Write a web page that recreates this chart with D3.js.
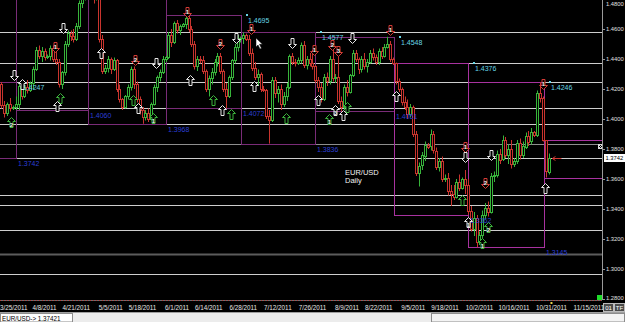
<!DOCTYPE html>
<html lang="en">
<head>
<meta charset="utf-8">
<title>EUR/USD Daily</title>
<script src="https://d3js.org/d3.v7.min.js"></script>
<style>
  body { margin: 0; background: #000; overflow: hidden; }
  svg text { font-family: "Liberation Sans", Arial, sans-serif; }
</style>
</head>
<body>
<script>
// daily bars (Sun..Fri), bar 0 = 3/22/2011 : [open, high, low, close]
var candles = [
  [1.4230,1.4247,1.4070,1.4090],[1.4090,1.4120,1.4010,1.4040],[1.4040,1.4110,1.4020,1.4100],[1.4100,1.4140,1.4050,1.4070],
  [1.4070,1.4090,1.4060,1.4080],[1.4080,1.4150,1.4060,1.4100],[1.4100,1.4240,1.4060,1.4220],[1.4220,1.4250,1.4130,1.4150],
  [1.4150,1.4230,1.4140,1.4210],[1.4210,1.4260,1.4170,1.4190],[1.4190,1.4250,1.4180,1.4240],[1.4240,1.4350,1.4200,1.4330],
  [1.4330,1.4480,1.4320,1.4460],[1.4460,1.4490,1.4400,1.4420],[1.4420,1.4480,1.4380,1.4450],[1.4450,1.4470,1.4390,1.4410],
  [1.4410,1.4430,1.4400,1.4420],[1.4420,1.4490,1.4390,1.4470],[1.4470,1.4490,1.4380,1.4400],[1.4400,1.4450,1.4360,1.4380],
  [1.4380,1.4400,1.4210,1.4230],[1.4230,1.4320,1.4200,1.4310],[1.4310,1.4520,1.4290,1.4500],[1.4500,1.4590,1.4480,1.4570],
  [1.4570,1.4590,1.4520,1.4550],[1.4550,1.4600,1.4510,1.4530],[1.4530,1.4640,1.4520,1.4620],[1.4620,1.4790,1.4600,1.4770],
  [1.4770,1.4850,1.4740,1.4820],[1.4820,1.4880,1.4790,1.4850],[1.4850,1.4870,1.4830,1.4840],[1.4840,1.4900,1.4800,1.4830],
  [1.4830,1.4870,1.4770,1.4800],[1.4800,1.4940,1.4790,1.4830],[1.4830,1.4850,1.4510,1.4530],[1.4530,1.4560,1.4300,1.4320],
  [1.4320,1.4360,1.4300,1.4340],[1.4340,1.4420,1.4310,1.4400],[1.4400,1.4410,1.4300,1.4330],[1.4330,1.4410,1.4320,1.4390],
  [1.4390,1.4400,1.4180,1.4200],[1.4200,1.4230,1.4110,1.4130],[1.4130,1.4140,1.4060,1.4080],[1.4080,1.4160,1.4070,1.4150],
  [1.4150,1.4230,1.4130,1.4210],[1.4210,1.4350,1.4190,1.4330],[1.4330,1.4350,1.4200,1.4230],[1.4230,1.4250,1.4110,1.4130],
  [1.4130,1.4150,1.4030,1.4060],[1.4060,1.4080,1.3968,1.4010],[1.4010,1.4060,1.3990,1.4040],[1.4040,1.4070,1.3980,1.4000],
  [1.4000,1.4110,1.3990,1.4100],[1.4100,1.4230,1.4090,1.4210],[1.4210,1.4290,1.4180,1.4280],[1.4280,1.4330,1.4250,1.4310],
  [1.4310,1.4420,1.4300,1.4400],[1.4400,1.4420,1.4380,1.4410],[1.4410,1.4580,1.4400,1.4560],[1.4560,1.4600,1.4480,1.4510],
  [1.4510,1.4650,1.4500,1.4640],[1.4640,1.4660,1.4570,1.4590],[1.4590,1.4630,1.4560,1.4620],[1.4620,1.4640,1.4610,1.4630],
  [1.4630,1.4695,1.4600,1.4670],[1.4670,1.4690,1.4580,1.4600],[1.4600,1.4620,1.4480,1.4500],[1.4500,1.4520,1.4330,1.4350],
  [1.4350,1.4420,1.4320,1.4400],[1.4400,1.4420,1.4370,1.4390],[1.4390,1.4420,1.4300,1.4320],[1.4320,1.4330,1.4180,1.4200],
  [1.4200,1.4290,1.4150,1.4270],[1.4270,1.4340,1.4230,1.4310],[1.4310,1.4400,1.4290,1.4380],[1.4380,1.4440,1.4350,1.4420],
  [1.4420,1.4440,1.4300,1.4320],[1.4320,1.4330,1.4180,1.4200],[1.4200,1.4240,1.4072,1.4150],[1.4150,1.4290,1.4140,1.4280],
  [1.4280,1.4400,1.4260,1.4390],[1.4390,1.4500,1.4370,1.4480],[1.4480,1.4560,1.4450,1.4530],[1.4530,1.4550,1.4510,1.4540],
  [1.4540,1.4577,1.4500,1.4560],[1.4560,1.4570,1.4520,1.4530],[1.4530,1.4560,1.4420,1.4440],[1.4440,1.4470,1.4320,1.4340],
  [1.4340,1.4380,1.4260,1.4280],[1.4280,1.4330,1.4220,1.4300],[1.4300,1.4310,1.4180,1.4200],[1.4200,1.4220,1.4180,1.4190],
  [1.4190,1.4200,1.4000,1.4020],[1.4020,1.4060,1.3836,1.3990],[1.3990,1.4280,1.3980,1.4260],[1.4260,1.4280,1.4140,1.4170],
  [1.4170,1.4220,1.4110,1.4200],[1.4200,1.4230,1.4060,1.4100],[1.4100,1.4180,1.4080,1.4150],[1.4150,1.4240,1.4120,1.4210],
  [1.4210,1.4430,1.4200,1.4420],[1.4420,1.4440,1.4360,1.4380],[1.4380,1.4400,1.4350,1.4370],[1.4370,1.4410,1.4360,1.4390],
  [1.4390,1.4510,1.4370,1.4490],[1.4490,1.4520,1.4340,1.4360],[1.4360,1.4420,1.4330,1.4400],[1.4400,1.4440,1.4350,1.4370],
  [1.4370,1.4460,1.4330,1.4350],[1.4350,1.4360,1.4240,1.4260],[1.4260,1.4280,1.4180,1.4210],[1.4210,1.4240,1.4110,1.4130],
  [1.4130,1.4300,1.4120,1.4280],[1.4280,1.4310,1.4220,1.4250],[1.4250,1.4420,1.4230,1.4400],[1.4400,1.4460,1.4250,1.4270],
  [1.4270,1.4300,1.4240,1.4280],[1.4280,1.4430,1.4100,1.4120],[1.4120,1.4150,1.4051,1.4080],[1.4080,1.4230,1.4060,1.4210],
  [1.4210,1.4260,1.4150,1.4180],[1.4180,1.4300,1.4170,1.4290],[1.4290,1.4460,1.4280,1.4440],[1.4440,1.4460,1.4380,1.4400],
  [1.4400,1.4410,1.4300,1.4330],[1.4330,1.4420,1.4310,1.4400],[1.4400,1.4440,1.4330,1.4350],[1.4350,1.4400,1.4310,1.4380],
  [1.4380,1.4460,1.4370,1.4440],[1.4440,1.4470,1.4390,1.4410],[1.4410,1.4430,1.4360,1.4380],[1.4380,1.4470,1.4360,1.4450],
  [1.4450,1.4480,1.4400,1.4420],[1.4420,1.4500,1.4410,1.4480],[1.4480,1.4548,1.4470,1.4500],[1.4500,1.4520,1.4380,1.4400],
  [1.4400,1.4410,1.4360,1.4370],[1.4370,1.4376,1.4230,1.4250],[1.4250,1.4270,1.4180,1.4200],[1.4200,1.4210,1.4090,1.4110],
  [1.4110,1.4150,1.4060,1.4080],[1.4080,1.4130,1.4000,1.4030],[1.4030,1.4100,1.4010,1.4080],[1.4080,1.4090,1.3880,1.3900],
  [1.3900,1.3920,1.3620,1.3640],[1.3640,1.3710,1.3550,1.3690],[1.3690,1.3780,1.3660,1.3760],[1.3760,1.3850,1.3720,1.3830],
  [1.3830,1.3840,1.3800,1.3820],[1.3820,1.3930,1.3790,1.3900],[1.3900,1.3920,1.3770,1.3790],[1.3790,1.3810,1.3660,1.3680],
  [1.3680,1.3740,1.3650,1.3720],[1.3720,1.3750,1.3580,1.3600],[1.3600,1.3630,1.3580,1.3610],[1.3610,1.3640,1.3490,1.3520],
  [1.3520,1.3560,1.3420,1.3500],[1.3500,1.3560,1.3460,1.3480],[1.3480,1.3600,1.3470,1.3580],[1.3580,1.3630,1.3520,1.3540],
  [1.3540,1.3610,1.3530,1.3600],[1.3600,1.3660,1.3500,1.3560],[1.3560,1.3600,1.3362,1.3390],[1.3390,1.3420,1.3250,1.3270],
  [1.3270,1.3380,1.3220,1.3340],[1.3340,1.3360,1.3145,1.3180],[1.3180,1.3250,1.3160,1.3230],[1.3230,1.3390,1.3170,1.3360],
  [1.3360,1.3440,1.3330,1.3410],[1.3410,1.3450,1.3350,1.3380],[1.3380,1.3640,1.3370,1.3620],[1.3620,1.3650,1.3580,1.3630],
  [1.3630,1.3790,1.3610,1.3770],[1.3770,1.3800,1.3700,1.3730],[1.3730,1.3890,1.3720,1.3860],[1.3860,1.3880,1.3740,1.3760],
  [1.3760,1.3830,1.3700,1.3800],[1.3800,1.3860,1.3670,1.3700],[1.3700,1.3740,1.3680,1.3720],[1.3720,1.3860,1.3700,1.3840],
  [1.3840,1.3870,1.3730,1.3760],[1.3760,1.3850,1.3740,1.3820],[1.3820,1.3910,1.3800,1.3890],[1.3890,1.3920,1.3820,1.3850],
  [1.3850,1.3940,1.3830,1.3910],[1.3910,1.3920,1.3880,1.3890],[1.3890,1.4190,1.3880,1.4170],[1.4170,1.4246,1.4110,1.4140],
  [1.4140,1.4150,1.3850,1.3860],[1.3860,1.3860,1.3610,1.3650],[1.3650,1.3770,1.3630,1.3742]
];

// time axis labels and the bar they sit on
var tickLabels = ["3/25/2011","4/8/2011","4/21/2011","5/5/2011","5/18/2011","6/1/2011","6/14/2011","6/28/2011","7/12/2011",
                  "7/26/2011","8/9/2011","8/22/2011","9/5/2011","9/18/2011","10/2/2011","10/16/2011","10/31/2011","11/15/2011"];
var tickBars = [3,15,26,38,49,61,72,84,96,108,120,131,143,154,166,178,191,204];

var priceTicks = [1.28,1.30,1.32,1.34,1.36,1.38,1.40,1.42,1.44,1.46,1.48];

// support / resistance lines
var levels = [1.4577,1.4376,1.4247,1.4072,1.3968,1.3836,1.3742,1.3495,1.3428,1.3262,1.3100,1.2967];

// monthly range boxes (bar index edges, high, low)
var boxStart = [-6, 5.1, 30.1, 57.2, 83.2, 108.9, 136.3, 162.0, 188.4];
var boxEnd   = [5.1, 30.1, 57.2, 83.2, 108.9, 136.3, 162.0, 188.4, 215];
var boxHigh  = [1.4247,1.4880,1.4940,1.4695,1.4577,1.4548,1.4376,1.4246,1.3860];
var boxLow   = [1.3742,1.4060,1.3968,1.4072,1.3836,1.4051,1.3362,1.3145,1.3610];

// signal arrows: w = white, g = green, r = red; up / down
var markerBars   = [4.4,7.2,3.3,21.4,18.6,20.4,19.3,34.6,46.4,53.7,45.7,47.4,52.7,64.5,65.5,75.9,73.5,76.6,79.7,81.5,
                    86.7,87.7,100.9,98.8,108.6,110,114.8,116.9,121.8,113.8,115.9,118.6,120,134.9,137,161,161,170,168,160,
                    162,169,167,188.1,188.8];
var markerPrices = [1.4293,1.4233,1.3980,1.4607,1.4480,1.4140,1.4087,1.4440,1.4393,1.4373,1.4127,1.4073,1.4007,1.4713,1.4260,1.4500,1.4127,1.4060,1.4033,1.4540,
                    1.4600,1.4220,1.4507,1.4007,1.4460,1.4127,1.4493,1.4453,1.4540,1.4000,1.4060,1.4027,1.4080,1.4593,1.4153,1.3813,1.3747,1.3760,1.3573,1.3460,
                    1.3313,1.3280,1.3173,1.4233,1.3540];
var markerKinds  = ["wd","wu","gu","wd","rd","gu","wu","wu","rd","wd","gu","wu","gu","rd","wu","rd","gu","wu","gu","wd",
                    "rd","wu","wd","gu","rd","wu","rd","rd","wd","gu","wu","wu","gu","rd","wu","rd","wd","wd","rd","gu",
                    "wu","gu","gu","rd","wu"];
var markerNums   = ["","","2","","1","","","","2","","","","1","1","","2","","","","",
                    "1","","","","1","","2","3","","1","3","","","1","","1","","","2","",
                    "1","2","1","1",""];

var boxLabelsShown = 8;   // last box is still open, no labels
var lastPrice = 1.3742;

var width = 625, height = 322;
var plotW = 602, plotH = 300;

var svg = d3.select("body").append("svg")
            .attr("width", width)
            .attr("height", height);

svg.append("rect").attr("width", width).attr("height", height).attr("fill", "#000");

var x = d3.scaleLinear().domain([0, 209]).range([1.4, 603.3]);
var y = d3.scaleLinear().domain([1.28, 1.48]).range([299, -1]);

function px(v) { return Math.round(v) + 0.5; }

svg.append("clipPath").attr("id", "plotclip")
   .append("rect").attr("width", plotW).attr("height", plotH);

var plot = svg.append("g").attr("clip-path", "url(#plotclip)");

// horizontal levels
plot.append("g").selectAll("line")
    .data(levels)
    .join("line")
    .attr("x1", 0).attr("x2", plotW)
    .attr("y1", d => px(y(d))).attr("y2", d => px(y(d)))
    .attr("stroke", d => d == 1.3100 ? "#5c5c5c" : (d == 1.3836 ? "#8e8e8e" : "#cdcdcd"))
    .attr("stroke-width", d => d == 1.3100 ? 2 : 1);

// range boxes
var boxes = d3.range(boxStart.length);
plot.append("g").selectAll("rect")
    .data(boxes)
    .join("rect")
    .attr("x", i => px(x(boxStart[i])))
    .attr("y", i => px(y(boxHigh[i])))
    .attr("width", i => Math.round(x(boxEnd[i])) - Math.round(x(boxStart[i])))
    .attr("height", i => Math.round(y(boxLow[i])) - Math.round(y(boxHigh[i])))
    .attr("fill", "none")
    .attr("stroke", i => i >= 6 ? "#a8329f" : "#7a2c78");

// candles
var cg = plot.append("g").selectAll("g")
    .data(candles)
    .join("g");

cg.append("line")
  .attr("x1", (d, i) => px(x(i))).attr("x2", (d, i) => px(x(i)))
  .attr("y1", d => y(d[1])).attr("y2", d => y(d[2]))
  .attr("stroke", d => d[3] >= d[0] ? "#37b43a" : "#c9342e");

cg.append("rect")
  .attr("x", (d, i) => Math.round(x(i)) - 0.5)
  .attr("y", d => Math.round(y(Math.max(d[0], d[3]))) + 0.5)
  .attr("width", 2)
  .attr("height", d => Math.max(1, Math.round(Math.abs(y(d[0]) - y(d[3])))))
  .attr("fill", "#000")
  .attr("stroke", d => d[3] >= d[0] ? "#37b43a" : "#c9342e");

// box labels: highs in cyan, lows in blue (only those inside the price range)
var labelled = boxes.slice(0, boxLabelsShown);
var highLabelled = labelled.filter(i => boxHigh[i] <= y.domain()[1]);

plot.append("g").selectAll("rect")
    .data(highLabelled)
    .join("rect")
    .attr("x", i => Math.round(x(boxEnd[i])) + 5)
    .attr("y", i => Math.round(y(boxHigh[i])) - 1)
    .attr("width", 2).attr("height", 2)
    .attr("fill", "#67d6e6");

plot.append("g").selectAll("text")
    .data(highLabelled)
    .join("text")
    .attr("x", i => Math.round(x(boxEnd[i])) + 7)
    .attr("y", i => y(boxHigh[i]) + 8)
    .attr("font-size", "7px")
    .attr("fill", "#67d6e6")
    .text(i => boxHigh[i].toFixed(4));

plot.append("g").selectAll("text")
    .data(labelled)
    .join("text")
    .attr("x", i => Math.round(x(boxEnd[i])) + 2)
    .attr("y", i => y(boxLow[i]) + 8)
    .attr("font-size", "7px")
    .attr("fill", "#2b3fd6")
    .text(i => boxLow[i].toFixed(4));

// signal arrows
var upPath = "M0,-5L4,-1L1.5,-1L1.5,5L-1.5,5L-1.5,-1L-4,-1Z";
var markerColor = { w: "#e6e6e6", g: "#3cb23c", r: "#d23a34" };
var mk = plot.append("g").selectAll("g")
    .data(d3.range(markerBars.length))
    .join("g")
    .attr("transform", i => "translate(" + px(x(markerBars[i])) + "," + px(y(markerPrices[i])) + ")");

mk.append("path")
  .attr("d", upPath)
  .attr("transform", i => markerKinds[i][1] == "d" ? "rotate(180)" : null)
  .attr("fill", "#000")
  .attr("stroke", i => markerColor[markerKinds[i][0]])
  .attr("stroke-width", 1);

mk.append("text")
  .attr("text-anchor", "middle")
  .attr("y", i => markerKinds[i][1] == "d" ? 1 : 4)
  .attr("font-size", "6px")
  .attr("font-weight", "bold")
  .attr("fill", "#f0f0f0")
  .text(i => markerNums[i]);

// current price marker on the last bar
var lp = px(y(lastPrice));
plot.append("path")
    .attr("d", "M" + (x(191) + 1) + "," + lp + "h9M" + (x(191) + 1) + "," + lp + "l3,-2M" + (x(191) + 1) + "," + lp + "l3,2")
    .attr("stroke", "#d23a34").attr("fill", "none");

// symbol caption
svg.append("text").attr("x", 345).attr("y", 175).attr("font-size", "7.5px").attr("fill", "#f2f2f2").text("EUR/USD");
svg.append("text").attr("x", 345).attr("y", 183).attr("font-size", "7.5px").attr("fill", "#f2f2f2").text("Daily");

// mouse pointer
svg.append("path")
   .attr("d", "M256,38v9l2,-2l2,4l1.5,-0.7l-2,-4h3z")
   .attr("fill", "#fff").attr("stroke", "#000").attr("stroke-width", 0.5);

// small chart widgets
svg.append("rect").attr("x", 598.5).attr("y", 144.5).attr("width", 4).attr("height", 4)
   .attr("fill", "none").attr("stroke", "#ddd");
svg.append("path").attr("d", "M599,145l3,3M602,145l-3,3").attr("stroke", "#ddd");
svg.append("rect").attr("x", 597).attr("y", 295).attr("width", 5).attr("height", 5).attr("fill", "#1fdc2a");

// right price axis
svg.append("line").attr("x1", 602.5).attr("x2", 602.5).attr("y1", 0).attr("y2", 300).attr("stroke", "#9a9a9a");
var yAxis = svg.append("g").selectAll("g")
    .data(priceTicks)
    .join("g");
yAxis.append("line")
     .attr("x1", 603).attr("x2", 605)
     .attr("y1", d => px(y(d))).attr("y2", d => px(y(d)))
     .attr("stroke", "#9a9a9a");
yAxis.append("text")
     .attr("x", 606)
     .attr("y", d => Math.min(Math.max(y(d) + 2.2, 6), 300))
     .attr("font-size", "5.8px")
     .attr("fill", "#e0e0e0")
     .text(d => d.toFixed(4));

svg.append("rect").attr("x", 604).attr("y", Math.round(y(lastPrice)) - 4).attr("width", 21).attr("height", 8).attr("fill", "#fff");
svg.append("text").attr("x", 605.5).attr("y", y(lastPrice) + 2.2).attr("font-size", "5.8px").attr("fill", "#000")
   .text(lastPrice.toFixed(4));

// time axis
svg.append("line").attr("x1", 0).attr("x2", 602).attr("y1", 300.5).attr("y2", 300.5).attr("stroke", "#6e6e6e");
svg.append("line").attr("x1", 0).attr("x2", 602).attr("y1", 300.5).attr("y2", 300.5)
   .attr("stroke", "#b03a3a").attr("stroke-dasharray", "1,2");
svg.append("g").selectAll("text")
   .data(tickLabels)
   .join("text")
   .attr("x", (d, i) => i == 0 ? 0 : x(tickBars[i]))
   .attr("y", 309.5)
   .attr("text-anchor", (d, i) => i == 0 ? "start" : "middle")
   .attr("font-size", "6.3px")
   .attr("fill", "#e6e6e6")
   .text(d => d);
svg.append("rect").attr("x", x(191) - 1).attr("y", 302).attr("width", 2).attr("height", 2).attr("fill", "#e6d24a");

// "01" / "TF" buttons
var btn = svg.append("g").selectAll("g").data(["01", "TF"]).join("g")
   .attr("transform", (d, i) => "translate(" + (603 + i * 11) + ",303)");
btn.append("rect").attr("x", 0.5).attr("y", 0.5).attr("width", 10).attr("height", 8)
   .attr("fill", "#4a4a4a").attr("stroke", "#bbb");
btn.append("text").attr("x", 5.5).attr("y", 7).attr("text-anchor", "middle")
   .attr("font-size", "6px").attr("fill", "#fff").text(d => d);

// status bar
svg.append("rect").attr("x", 0).attr("y", 312).attr("width", width).attr("height", 10).attr("fill", "#ececec");
svg.append("line").attr("x1", 0).attr("x2", width).attr("y1", 312.5).attr("y2", 312.5).attr("stroke", "#a0a0a0");
svg.append("rect").attr("x", 0.5).attr("y", 313.5).attr("width", 72).attr("height", 8.5)
   .attr("fill", "#fff").attr("stroke", "#8c8c8c");
svg.append("text").attr("x", 2).attr("y", 320.5).attr("font-size", "6.3px").attr("fill", "#000").text("EUR/USD-> 1.37421");
svg.append("rect").attr("x", 431.5).attr("y", 313.5).attr("width", 193).attr("height", 8.5)
   .attr("fill", "#f3f3f3").attr("stroke", "#8c8c8c");
</script>
</body>
</html>
